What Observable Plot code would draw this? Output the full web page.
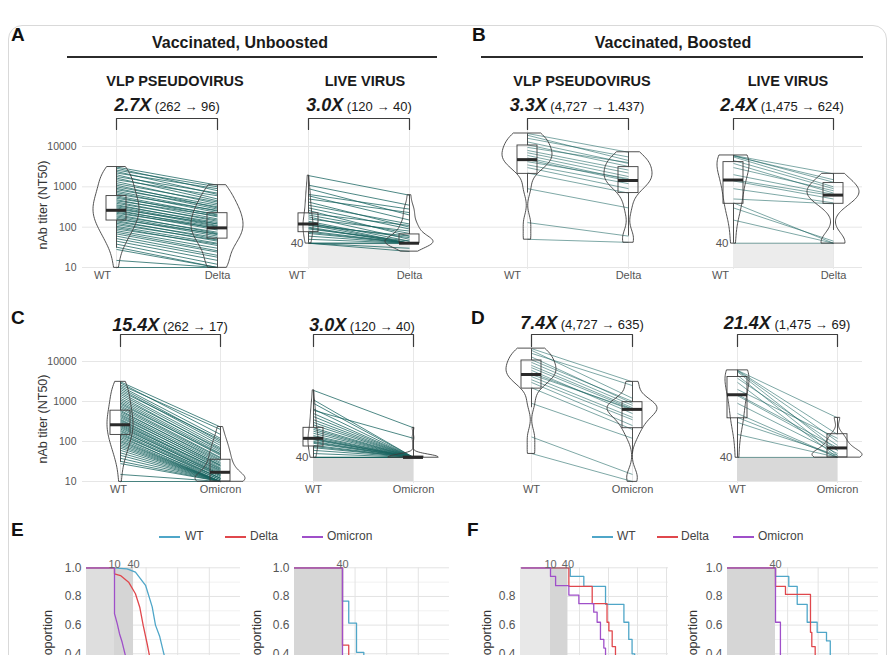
<!DOCTYPE html>
<html><head><meta charset="utf-8">
<script src="https://cdn.jsdelivr.net/npm/d3@7"></script>
<script src="https://cdn.jsdelivr.net/npm/@observablehq/plot@0.6"></script>
<style>
html,body{margin:0;padding:0;background:#fff;overflow:hidden;}
#wrap{position:relative;width:892px;height:655px;overflow:hidden;font-family:"Liberation Sans",Arial,Helvetica,sans-serif;color:#1a1a1a;background:#fff;}
#card{position:absolute;left:8px;top:25px;width:879px;height:720px;border:1px solid #d9d9d9;border-radius:14px;box-sizing:border-box;}
.t{position:absolute;white-space:nowrap;line-height:1.15;}
.rule{position:absolute;height:2px;background:#2b2b2b;}
.sw{position:absolute;height:2px;}
</style></head><body><div id="wrap"><div id="card"></div></div>
<script>
// ---------------- DATA ----------------
const yTicks = [10, 100, 1000, 10000];

// Vaccinated, unboosted – VLP pseudovirus NT50 (paired per participant)
const unbVlpWT = [3100,2900,2600,2400,2200,2000,1800,1650,1500,1350,1200,1100,1000,920,850,780,720,660,600,560,520,480,450,420,390,360,340,320,300,280,265,250,235,220,205,190,178,165,155,145,135,125,115,105,98,90,82,75,68,60,52,45,38,32,28,15,10];
const unbVlpDelta = [1100,800,1000,650,900,500,700,450,600,380,420,300,350,280,320,250,230,260,200,180,210,160,190,140,150,120,130,110,105,120,90,100,85,95,70,75,65,60,68,50,55,45,48,40,35,38,30,26,24,20,18,15,12,10,10,10,10];
const unbVlpOmicron = [230,150,200,120,100,90,110,80,70,60,65,55,50,45,48,40,38,35,30,33,28,25,26,22,24,20,21,18,17,19,16,15,14,15,13,12,14,12,11,12,10,11,10,10,10,10,10,10,10,10,10,10,10,10,10,10,10];
// Vaccinated, unboosted – live virus
const unbLiveWT = [1900,1100,900,650,600,500,420,350,300,260,220,200,180,160,140,130,120,115,110,100,95,90,80,75,70,60,50,40,40,40,40];
const unbLiveDelta = [620,350,200,280,150,230,100,120,90,60,110,70,50,80,45,40,55,40,60,40,40,45,40,40,40,40,40,30,25,40,40];
const unbLiveOmicron = [220,40,40,40,120,40,40,40,40,40,40,40,40,40,40,40,40,40,40,40,40,40,40,40,40,40,40,40,40,40,40];
// Vaccinated, boosted – VLP pseudovirus
const bstVlpWT = [21000,19000,16000,13000,11000,9500,8000,7000,6000,5200,4700,4200,3500,3000,2200,900,130,50];
const bstVlpDelta = [7200,4500,5500,3800,3200,4000,2600,2200,1800,1500,1400,1600,1200,900,700,300,60,42];
const bstVlpOmicron = [3100,1200,2500,900,1000,800,700,650,500,600,640,400,350,250,200,120,15,10];
// Vaccinated, boosted – live virus
const bstLiveWT = [6000,6000,5800,5500,4500,3800,3000,2000,1500,1400,900,500,400,300,150,40];
const bstLiveDelta = [2100,1300,1500,1000,900,700,800,650,600,500,400,380,40,45,40,40];
const bstLiveOmicron = [390,150,100,60,45,80,40,120,70,60,50,40,40,45,40,40];

// box stats: [lower whisker, Q1, median, Q3, upper whisker]
const boxUnbVlpWT = [30,146,262,590,3100];
const boxUnbVlpDelta = [10,52,96,222,1100];
const boxUnbVlpOmicron = [10,10,17,35,230];
const boxUnbLiveWT = [40,75,120,220,1900];
const boxUnbLiveDelta = [40,40,40,66,620];
const boxUnbLiveOmicron = [40,40,40,42,220];
const boxBstVlpWT = [700,2100,4727,10600,20600];
const boxBstVlpDelta = [60,700,1437,3080,7200];
const boxBstVlpOmicron = [50,215,635,960,3100];
const boxBstLiveWT = [40,380,1475,4100,6000];
const boxBstLiveDelta = [83,380,624,1240,2100];
const boxBstLiveOmicron = [40,40,69,152,390];

// survival (proportion with NT50 above titer)
const sE1_WT_t = [1,10,25,46,96,156,198,270,360,480];
const sE1_WT_p = [1,1,0.993,0.97,0.878,0.727,0.6,0.52,0.405,0.3];
const sE1_De_t = [1,10,10,15.5,28,46,63,81,108,127,160];
const sE1_De_p = [1,1,0.958,0.946,0.9,0.819,0.725,0.598,0.47,0.39,0.28];
const sE1_Om_t = [1,10,10,12.2,14.4,17.5,22,28];
const sE1_Om_p = [1,1,0.68,0.61,0.54,0.48,0.39,0.28];
const sE2_WT_t = [1,40,63,111,189,300];
const sE2_WT_p = [1,0.767,0.614,0.41,0.33,0.25];
const sE2_De_t = [1,40,63,100];
const sE2_De_p = [1,0.46,0.3,0.2];
const sE2_Om_t = [1,40,120,220];
const sE2_Om_p = [1,0.065,0.032,0];
const sF1_WT_t = [1,48,141,790,3400,5000,6500,8000];
const sF1_WT_p = [1,0.94,0.87,0.745,0.62,0.5,0.4,0.3];
const sF1_De_t = [1,43,274,890,1030,1340,1740,2200];
const sF1_De_p = [1,0.87,0.75,0.62,0.56,0.45,0.38,0.3];
const sF1_Om_t = [1,10,15,43,95,310,405,528,690,790,1000];
const sF1_Om_p = [1,0.94,0.875,0.81,0.75,0.69,0.62,0.5,0.44,0.38,0.31];
const sF2_WT_t = [1,40,109,206,437,929,1880,2500];
const sF2_WT_p = [1,0.94,0.87,0.745,0.62,0.55,0.49,0.38];
const sF2_De_t = [1,40,85,561,620,800];
const sF2_De_p = [1,0.87,0.814,0.55,0.45,0.35];
const sF2_Om_t = [1,40,58,80];
const sF2_Om_p = [1,0.62,0.3,0.2];

const variantColors = {WT: "#4fa6c8", Delta: "#e0474c", Omicron: "#9f4fc9"};

// ---------------- HELPERS ----------------
const wrap = document.getElementById("wrap");
const FONT = "'Liberation Sans',Arial,Helvetica,sans-serif";
const svgStyle = `background:transparent;overflow:visible;position:absolute;left:0;top:0;font-family:${FONT};`;
const teal = "#17625f";
const ink = "#3d3d3d";

function kde(values, maxHalf, n = 60) {
  const lv = values.map(Math.log10);
  const lo = d3.min(lv), hi = d3.max(lv);
  const sd = d3.deviation(lv);
  const iqr = d3.quantile(lv, 0.75) - d3.quantile(lv, 0.25);
  let bw = 0.9 * (iqr > 0 ? Math.min(sd, iqr / 1.34) : sd) * Math.pow(lv.length, -0.2);
  bw = Math.max(bw, 0.03);
  const pts = d3.range(n + 1).map(i => lo + (hi - lo) * i / n);
  const dens = pts.map(x => d3.sum(lv, v => Math.exp(-0.5 * ((x - v) / bw) ** 2)));
  const m = d3.max(dens);
  return pts.map((x, i) => ({y: 10 ** x, w: dens[i] / m * maxHalf}));
}

function addLayer(svg) { wrap.appendChild(svg); }

function gridLayer(y10, dec) {
  return Plot.plot({
    width: 892, height: 655, marginLeft: 82, marginRight: 30, marginTop: 0, marginBottom: 655 - y10,
    x: {domain: [0, 1], axis: null},
    y: {type: "log", domain: [10, 10000], range: [y10, y10 - 3 * dec], axis: null},
    style: svgStyle,
    marks: [Plot.ruleY(yTicks, {stroke: "#e6e6e6", strokeWidth: 1})]
  });
}

function pairPanel(o) {
  const sp = o.xr[1] - o.xr[0];
  const yv = px => 10 ** (1 + (o.y10 - px) / o.dec);
  const idx = d3.range(o.a.length);
  const marks = [
    Plot.ruleX([0, 1], {x: d => d, y1: () => yv(o.bEnd), y2: () => yv(o.y10 + 2), stroke: "#e8e8e8"})
  ];
  if (o.shade) marks.push(Plot.rect([0], {x1: () => 0, x2: () => 1, y1: () => 10, y2: () => 40, fill: o.shade}));
  marks.push(Plot.link(idx, {x1: () => 0, x2: () => 1, y1: i => o.a[i], y2: i => o.b[i],
    stroke: teal, strokeOpacity: o.lineOpacity, strokeWidth: o.lineWidth}));
  const bw = 10 / sp;
  [[o.a, o.boxA, o.vwA, 0], [o.b, o.boxB, o.vwB, 1]].forEach(([vals, box, vw, pos]) => {
    const prof = kde(vals, vw / sp);
    marks.push(Plot.areaX(prof, {y: "y", x1: d => pos - d.w, x2: d => pos + d.w, fill: "none", stroke: ink, strokeWidth: 0.9}));
    marks.push(Plot.ruleX([box], {x: () => pos, y1: d => d[0], y2: d => d[1], stroke: ink, strokeWidth: 0.9}));
    marks.push(Plot.ruleX([box], {x: () => pos, y1: d => d[3], y2: d => d[4], stroke: ink, strokeWidth: 0.9}));
    marks.push(Plot.rect([box], {x1: () => pos - bw, x2: () => pos + bw, y1: d => d[1], y2: d => d[3], fill: "none", stroke: ink, strokeWidth: 0.9}));
    marks.push(Plot.ruleY([box], {x1: () => pos - bw, x2: () => pos + bw, y: d => d[2], stroke: "#2a2a2a", strokeWidth: 3}));
  });
  const bt = yv(o.bTop), be = yv(o.bEnd);
  marks.push(Plot.line([[0, be], [0, bt], [1, bt], [1, be]], {stroke: ink, strokeWidth: 1.2}));
  marks.push(Plot.text([o.cats[0]], {x: () => 0, text: d => d, frameAnchor: "bottom", dy: 11, dx: o.wtDx, fontSize: 11, fill: "#555"}));
  marks.push(Plot.text([o.cats[1]], {x: () => 1, text: d => d, frameAnchor: "bottom", dy: 11, fontSize: 11, fill: "#555"}));
  if (o.yAxis) marks.push(Plot.text(yTicks, {y: d => d, text: d => String(d), frameAnchor: "left", dx: -4, textAnchor: "end", fontSize: 10.5, fill: "#555"}));
  if (o.shade) marks.push(Plot.text([40], {y: d => d, x: () => 0, text: d => String(d), dx: -5, textAnchor: "end", fontSize: 11.5, fill: "#555"}));
  return Plot.plot({
    width: 892, height: 655, marginLeft: o.ml || 0, marginRight: 0, marginTop: 0, marginBottom: 655 - o.y10,
    x: {domain: [0, 1], range: o.xr, axis: null},
    y: {type: "log", domain: [10, 10000], range: [o.y10, o.y10 - 3 * o.dec], axis: null},
    style: svgStyle,
    marks
  });
}

function survPanel(o) {
  const yTop = 567.3, yBot = 710.6, H = 720;
  const tAt = px => o.t0 * 10 ** ((px - o.px0) / o.dec);
  const xmin = tAt(o.left), xmax = tAt(o.right);
  const marks = [
    Plot.ruleY([0.1, 0.3, 0.5, 0.7, 0.9], {y: d => d, x1: () => xmin, x2: () => xmax, stroke: "#f1f1f1"}),
    Plot.ruleY([0, 0.2, 0.4, 0.6, 0.8, 1], {y: d => d, x1: () => xmin, x2: () => xmax, stroke: "#e3e3e3"}),
    Plot.ruleX([10, 100, 1000, 10000, 100000].filter(v => v > xmin && v <= xmax * 1.01), {x: d => d, y1: () => 0, y2: () => 1, stroke: "#e3e3e3"})
  ];
  if (o.lods.length === 2) {
    marks.push(Plot.rect([0], {x1: () => xmin, x2: () => o.lods[0], y1: () => 0, y2: () => 1, fill: o.lightShade}));
    marks.push(Plot.rect([0], {x1: () => o.lods[0], x2: () => o.lods[1], y1: () => 0, y2: () => 1, fill: "#d5d5d5"}));
  } else {
    marks.push(Plot.rect([0], {x1: () => xmin, x2: () => o.lods[0], y1: () => 0, y2: () => 1, fill: "#d6d6d6"}));
  }
  o.curves.forEach(([t, p, name]) => {
    marks.push(Plot.line(d3.range(t.length), {x: i => t[i], y: i => p[i], stroke: variantColors[name], strokeWidth: 1.3, curve: o.curve, clip: true}));
  });
  marks.push(Plot.text(o.yLabs, {y: d => d, text: d => d.toFixed(1), frameAnchor: "left", dx: -5, textAnchor: "end", fontSize: 12, fill: "#555"}));
  marks.push(Plot.text(o.lods, {x: d => d, text: d => String(d), frameAnchor: "top", dy: -8, fontSize: 11, fill: "#666"}));
  return Plot.plot({
    width: 892, height: H, marginLeft: o.left, marginRight: 892 - o.right, marginTop: yTop, marginBottom: H - yBot,
    x: {type: "log", domain: [xmin, xmax], range: [o.left, o.right], axis: null},
    y: {domain: [0, 1], range: [yBot, yTop], axis: null},
    style: svgStyle,
    marks
  });
}

function label(html, x, y, css, anchor = "middle") {
  const d = document.createElement("div");
  d.className = "t";
  d.innerHTML = html;
  const tx = anchor === "middle" ? "-50%" : "0";
  d.style.cssText = `left:${x}px;top:${y}px;${css};transform:translate(${tx},-50%);`;
  wrap.appendChild(d);
}
function rotLabel(text, x, y, size) {
  const d = document.createElement("div");
  d.className = "t";
  d.textContent = text;
  d.style.cssText = `left:${x}px;top:${y}px;font-size:${size}px;color:#333;transform:translate(-50%,-50%) rotate(-90deg);`;
  wrap.appendChild(d);
}
function hrule(x1, x2, y) {
  const d = document.createElement("div");
  d.className = "rule";
  d.style.cssText = `left:${x1}px;width:${x2 - x1}px;top:${y - 1}px;`;
  wrap.appendChild(d);
}
function legend(y, entries) {
  entries.forEach(([name, lx, tx]) => {
    const s = document.createElement("div");
    s.className = "sw";
    s.style.cssText = `left:${lx}px;width:21px;top:${y - 1}px;background:${variantColors[name]};`;
    wrap.appendChild(s);
    label(name, tx, y, "font-size:12px;color:#444", "start");
  });
}

// ---------------- BUILD ----------------
const rowA = {y10: 267, dec: 40.33, bTop: 118, bEnd: 129};
const rowC = {y10: 481, dec: 40, bTop: 334, bEnd: 346};

addLayer(gridLayer(rowA.y10, rowA.dec));
addLayer(gridLayer(rowC.y10, rowC.dec));

const dense = {lineOpacity: 0.85, lineWidth: 0.9};
const sparse = {lineOpacity: 0.8, lineWidth: 0.7};

addLayer(pairPanel({...rowA, ...dense, xr: [116, 217], a: unbVlpWT, b: unbVlpDelta, boxA: boxUnbVlpWT, boxB: boxUnbVlpDelta, vwA: 23, vwB: 26, cats: ["WT", "Delta"], wtDx: -14, yAxis: true, ml: 80}));
addLayer(pairPanel({...rowA, ...dense, xr: [308, 409], a: unbLiveWT, b: unbLiveDelta, boxA: boxUnbLiveWT, boxB: boxUnbLiveDelta, vwA: 5, vwB: 24, cats: ["WT", "Delta"], wtDx: -11, shade: "#ececec"}));
addLayer(pairPanel({...rowA, ...sparse, xr: [527, 628], a: bstVlpWT, b: bstVlpDelta, boxA: boxBstVlpWT, boxB: boxBstVlpDelta, vwA: 25, vwB: 24, cats: ["WT", "Delta"], wtDx: -15}));
addLayer(pairPanel({...rowA, ...sparse, xr: [733, 833], a: bstLiveWT, b: bstLiveDelta, boxA: boxBstLiveWT, boxB: boxBstLiveDelta, vwA: 16, vwB: 26, cats: ["WT", "Delta"], wtDx: -13, shade: "#ececec"}));

addLayer(pairPanel({...rowC, ...dense, xr: [120, 220], a: unbVlpWT, b: unbVlpOmicron, boxA: boxUnbVlpWT, boxB: boxUnbVlpOmicron, vwA: 13, vwB: 25, cats: ["WT", "Omicron"], wtDx: -2, yAxis: true, ml: 80}));
addLayer(pairPanel({...rowC, ...dense, xr: [313, 413], a: unbLiveWT, b: unbLiveOmicron, boxA: boxUnbLiveWT, boxB: boxUnbLiveOmicron, vwA: 5, vwB: 25, cats: ["WT", "Omicron"], wtDx: 0, shade: "#d9d9d9"}));
addLayer(pairPanel({...rowC, ...sparse, xr: [531, 632], a: bstVlpWT, b: bstVlpOmicron, boxA: boxBstVlpWT, boxB: boxBstVlpOmicron, vwA: 25, vwB: 25, cats: ["WT", "Omicron"], wtDx: 0}));
addLayer(pairPanel({...rowC, ...sparse, xr: [737, 837], a: bstLiveWT, b: bstLiveOmicron, boxA: boxBstLiveWT, boxB: boxBstLiveOmicron, vwA: 12, vwB: 25, cats: ["WT", "Omicron"], wtDx: 0, shade: "#d9d9d9"}));

const yLabsVisible = [1.0, 0.8, 0.6, 0.4];
addLayer(survPanel({t0: 10, px0: 114, dec: 31.6, left: 86, right: 240, lods: [10, 40], lightShade: "#dedede", curve: "linear", yLabs: yLabsVisible,
  curves: [[sE1_WT_t, sE1_WT_p, "WT"], [sE1_De_t, sE1_De_p, "Delta"], [sE1_Om_t, sE1_Om_p, "Omicron"]]}));
addLayer(survPanel({t0: 40, px0: 342, dec: 31.6, left: 294, right: 449, lods: [40], curve: "step-after", yLabs: yLabsVisible,
  curves: [[sE2_WT_t, sE2_WT_p, "WT"], [sE2_De_t, sE2_De_p, "Delta"], [sE2_Om_t, sE2_Om_p, "Omicron"]]}));
addLayer(survPanel({t0: 10, px0: 550, dec: 29, left: 520, right: 668, lods: [10, 40], lightShade: "#e8e8e8", curve: "step-after", yLabs: [0.8, 0.6, 0.4],
  curves: [[sF1_WT_t, sF1_WT_p, "WT"], [sF1_De_t, sF1_De_p, "Delta"], [sF1_Om_t, sF1_Om_p, "Omicron"]]}));
addLayer(survPanel({t0: 40, px0: 775, dec: 30.5, left: 727, right: 878, lods: [40], curve: "step-after", yLabs: yLabsVisible,
  curves: [[sF2_WT_t, sF2_WT_p, "WT"], [sF2_De_t, sF2_De_p, "Delta"], [sF2_Om_t, sF2_Om_p, "Omicron"]]}));

// ---------------- TEXT ----------------
const letter = "font-size:19px;font-weight:bold;color:#111";
const group = "font-size:16px;font-weight:bold;color:#1a1a1a";
const sub = "font-size:14.5px;font-weight:bold;color:#1a1a1a";
const fold = "font-size:13px;color:#1a1a1a";
const fx = (big, rest) => `<b style="font-size:18px;font-style:italic">${big}</b> ${rest}`;

label("A", 11, 35, letter, "start");
label("Vaccinated, Unboosted", 240, 43, group);
hrule(67, 437, 57);
label("VLP PSEUDOVIRUS", 175, 81, sub);
label("LIVE VIRUS", 365, 81, sub);
label(fx("2.7X", "(262 → 96)"), 167, 105, fold);
label(fx("3.0X", "(120 → 40)"), 359, 105, fold);

label("B", 472, 35, letter, "start");
label("Vaccinated, Boosted", 673, 43, group);
hrule(481, 863, 57);
label("VLP PSEUDOVIRUS", 582, 81, sub);
label("LIVE VIRUS", 788, 81, sub);
label(fx("3.3X", "(4,727 → 1.437)"), 577, 105, fold);
label(fx("2.4X", "(1,475 → 624)"), 782, 105, fold);

label("C", 11, 318, letter, "start");
label(fx("15.4X", "(262 → 17)"), 170, 325, fold);
label(fx("3.0X", "(120 → 40)"), 362, 325, fold);
label("D", 471, 318, letter, "start");
label(fx("7.4X", "(4,727 → 635)"), 582, 323, fold);
label(fx("21.4X", "(1,475 → 69)"), 787, 323, fold);

rotLabel("nAb titer (NT50)", 43, 205, 12.5);
rotLabel("nAb titer (NT50)", 43, 419, 12.5);

label("E", 11, 530, letter, "start");
label("F", 467, 530, letter, "start");
legend(537, [["WT", 159, 185], ["Delta", 225, 250], ["Omicron", 302, 327]]);
legend(537, [["WT", 592, 617], ["Delta", 657, 681], ["Omicron", 733, 758]]);
rotLabel("Proportion", 48, 639, 12.5);
rotLabel("Proportion", 257, 639, 12.5);
rotLabel("Proportion", 487, 639, 12.5);
rotLabel("Proportion", 693, 639, 12.5);
</script></body></html>
